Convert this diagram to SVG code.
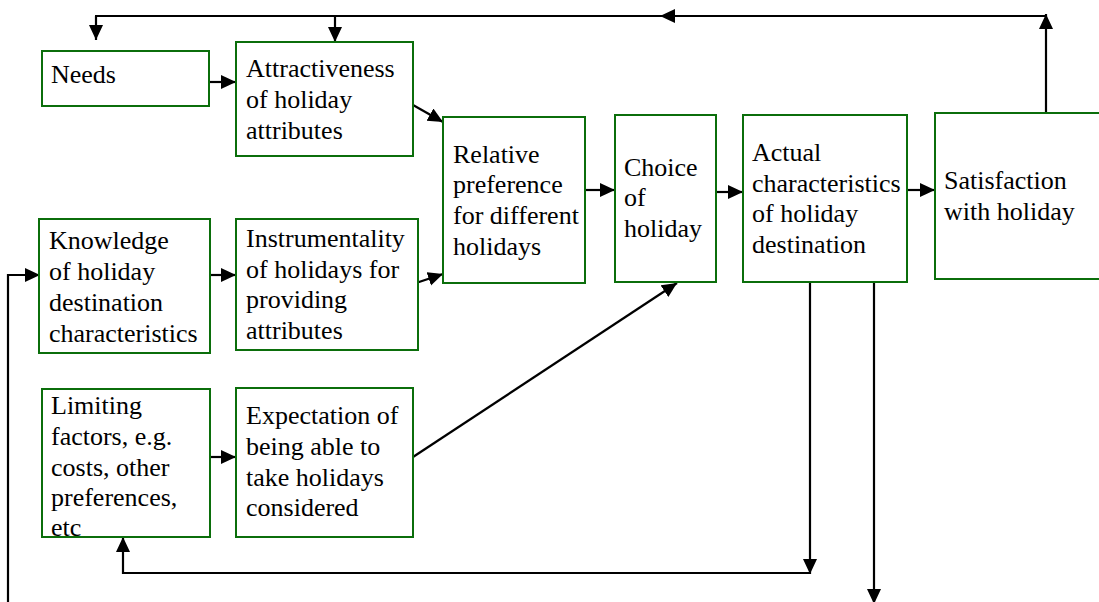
<svg xmlns="http://www.w3.org/2000/svg" width="1099" height="602" viewBox="0 0 1099 602">
<style>
.box{fill:#fff;stroke:#0b6e0b;stroke-width:2}
.c{fill:none;stroke:#000;stroke-width:2.2}
.a{marker-end:url(#ah)}
</style>
<defs>
<marker id="ah" markerUnits="userSpaceOnUse" markerWidth="16" markerHeight="15" refX="15" refY="7" orient="auto">
<path d="M0,0 L15,7 L0,14 z" fill="#000"/>
</marker>
</defs>
<rect width="1099" height="602" fill="#fff"/>
<g id="connectors">
<line class="c a" x1="209" y1="82" x2="236" y2="82"/>
<line class="c a" x1="413" y1="105" x2="443" y2="122"/>
<line class="c a" x1="210" y1="275" x2="236" y2="275"/>
<line class="c a" x1="416" y1="283" x2="443" y2="274"/>
<line class="c a" x1="210" y1="457" x2="236" y2="457"/>
<line class="c a" x1="413" y1="457" x2="677" y2="283"/>
<line class="c a" x1="585" y1="190" x2="615" y2="190"/>
<line class="c a" x1="716" y1="192" x2="743" y2="192"/>
<line class="c a" x1="907" y1="190" x2="935" y2="190"/>
<line class="c a" x1="1046" y1="113" x2="1046" y2="14"/>
<line class="c a" x1="1046" y1="16" x2="660" y2="16"/>
<line class="c" x1="662" y1="16" x2="95" y2="16"/>
<line class="c a" x1="96" y1="16" x2="96" y2="40"/>
<line class="c a" x1="335" y1="16" x2="335" y2="42"/>
<line class="c a" x1="810" y1="282" x2="810" y2="574"/>
<polyline class="c a" points="811,573 123,573 123,537"/>
<line class="c a" x1="874" y1="282" x2="874" y2="604"/>
<polyline class="c a" points="8,604 8,275 40,275"/>
</g>
<g font-family="Liberation Serif, serif" font-size="26" fill="#000">
<g id="needs"><rect class="box" x="42" y="51" width="167" height="55"/><text x="51" y="83">Needs</text></g>
<g id="attractiveness"><rect class="box" x="236" y="42" width="177" height="114"/><text x="246" y="77">Attractiveness</text><text x="246" y="108">of holiday</text><text x="246" y="139">attributes</text></g>
<g id="knowledge"><rect class="box" x="39" y="219" width="171" height="134"/><text x="49" y="249">Knowledge</text><text x="49" y="280">of holiday</text><text x="49" y="311">destination</text><text x="49" y="342">characteristics</text></g>
<g id="instrumentality"><rect class="box" x="236" y="219" width="182" height="131"/><text x="246" y="247">Instrumentality</text><text x="246" y="278">of holidays for</text><text x="246" y="308">providing</text><text x="246" y="339">attributes</text></g>
<g id="limiting"><rect class="box" x="42" y="389" width="168" height="148"/><text x="51" y="414">Limiting</text><text x="51" y="445">factors, e.g.</text><text x="51" y="476">costs, other</text><text x="51" y="506">preferences,</text><text x="51" y="536">etc</text></g>
<g id="expectation"><rect class="box" x="236" y="388" width="177" height="149"/><text x="246" y="424">Expectation of</text><text x="246" y="455">being able to</text><text x="246" y="486">take holidays</text><text x="246" y="516">considered</text></g>
<g id="relative"><rect class="box" x="443" y="117" width="142" height="166"/><text x="453" y="163">Relative</text><text x="453" y="193">preference</text><text x="453" y="224">for different</text><text x="453" y="255">holidays</text></g>
<g id="choice"><rect class="box" x="615" y="115" width="101" height="167"/><text x="624" y="176">Choice</text><text x="624" y="206">of</text><text x="624" y="237">holiday</text></g>
<g id="actual"><rect class="box" x="743" y="115" width="164" height="167"/><text x="752" y="161">Actual</text><text x="752" y="192">characteristics</text><text x="752" y="222">of holiday</text><text x="752" y="253">destination</text></g>
<g id="satisfaction"><rect class="box" x="935" y="113" width="170" height="166"/><text x="944" y="189">Satisfaction</text><text x="944" y="220">with holiday</text></g>
</g>
</svg>
